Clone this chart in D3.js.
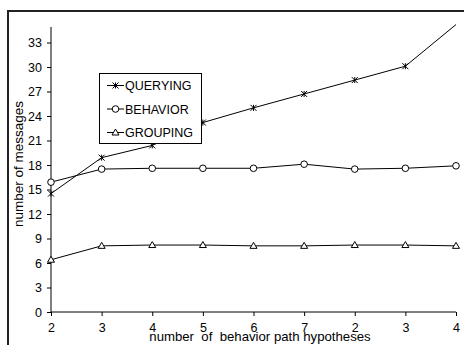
<!DOCTYPE html>
<html>
<head>
<meta charset="utf-8">
<script src="https://cdn.jsdelivr.net/npm/d3@7"></script>
<style>
  html, body { margin: 0; padding: 0; background: #fff; }
  svg { display: block; font-family: "Liberation Sans", Arial, sans-serif; }
</style>
</head>
<body>
<svg id="chart" width="464" height="345"></svg>
<script>
// x categories (two runs of hypothesis counts)
const xLabels = ["2", "3", "4", "5", "6", "7", "2", "3", "4"];
const yTicks = [0, 3, 6, 9, 12, 15, 18, 21, 24, 27, 30, 33];

const querying = [14.5, 18.9, 20.4, 23.2, 25.0, 26.7, 28.4, 30.1, 35.2];
const behavior = [15.9, 17.5, 17.6, 17.6, 17.6, 18.1, 17.5, 17.6, 17.9];
const grouping = [6.4, 8.1, 8.2, 8.2, 8.1, 8.1, 8.2, 8.2, 8.1];

const seriesNames = ["QUERYING", "BEHAVIOR", "GROUPING"];
const seriesMarkers = ["star", "circle", "triangle"];

const series = [querying, behavior, grouping].map((vals, i) => ({
  name: seriesNames[i], marker: seriesMarkers[i], values: vals
}));

const svg = d3.select("#chart");
const plotL = 51, plotR = 456, plotT = 27, plotB = 312;
const yMax = 34.9;

const x = d3.scalePoint().domain(d3.range(xLabels.length)).range([plotL, plotR]);
const y = d3.scaleLinear().domain([0, yMax]).range([plotB, plotT]);

// outer frame (left and top edges visible)
svg.append("path")
  .attr("d", `M8,345 V11 H464`)
  .attr("fill", "none").attr("stroke", "#222").attr("stroke-width", 2);

svg.append("defs").append("clipPath").attr("id", "plot")
  .append("rect").attr("x", plotL).attr("y", plotT - 3).attr("width", plotR - plotL + 2).attr("height", plotB - plotT + 3);

// y axis
const yAxis = svg.append("g").attr("transform", `translate(${plotL},0)`)
  .call(d3.axisLeft(y).tickValues(yTicks).tickSize(4).tickPadding(5).tickSizeOuter(0));
yAxis.select(".domain").attr("d", `M0,${plotT}V${plotB}`);
yAxis.selectAll("text").attr("font-size", 12.5).attr("font-family", "Liberation Sans, Arial, sans-serif").attr("fill", "#000");
yAxis.selectAll("line, path").attr("stroke", "#000");

// x axis
const xAxis = svg.append("g").attr("transform", `translate(0,${plotB})`)
  .call(d3.axisBottom(x).tickFormat(i => xLabels[i]).tickSize(4).tickPadding(7).tickSizeOuter(0));
xAxis.select(".domain").attr("d", `M${plotL},0H${plotR}`);
xAxis.selectAll("text").attr("font-size", 12.5).attr("font-family", "Liberation Sans, Arial, sans-serif").attr("fill", "#000");
xAxis.selectAll("line, path").attr("stroke", "#000");

// axis titles
svg.append("text")
  .attr("transform", `translate(23,164) rotate(-90)`)
  .attr("text-anchor", "middle").attr("font-size", 13.5)
  .text("number of messages");
svg.append("text")
  .attr("x", 260).attr("y", 341)
  .attr("text-anchor", "middle").attr("font-size", 13.2)
  .style("white-space", "pre")
  .text("number  of  behavior path hypotheses");

function drawMarker(g, type, cx, cy) {
  if (type === "circle") {
    g.append("circle").attr("cx", cx).attr("cy", cy).attr("r", 3.3)
      .attr("fill", "#fff").attr("stroke", "#000").attr("stroke-width", 1);
  } else if (type === "triangle") {
    g.append("path")
      .attr("d", `M${cx},${cy - 3.5}L${cx + 3.5},${cy + 2.5}L${cx - 3.5},${cy + 2.5}Z`)
      .attr("fill", "#fff").attr("stroke", "#000").attr("stroke-width", 1);
  } else {
    const s = 3;
    g.append("path")
      .attr("d", `M${cx - s},${cy - s}L${cx + s},${cy + s}M${cx + s},${cy - s}L${cx - s},${cy + s}M${cx},${cy - s}V${cy + s}`)
      .attr("fill", "none").attr("stroke", "#000").attr("stroke-width", 1);
  }
}

const line = d3.line().x((d, i) => x(i)).y(d => y(d));
const plot = svg.append("g").attr("clip-path", "url(#plot)");

series.forEach(s => {
  plot.append("path").datum(s.values).attr("d", line)
    .attr("fill", "none").attr("stroke", "#000").attr("stroke-width", 1);
});
series.forEach(s => {
  const g = svg.append("g");
  s.values.forEach((v, i) => { if (v <= yMax) drawMarker(g, s.marker, x(i), y(v)); });
});

// legend
const lg = svg.append("g");
lg.append("rect").attr("x", 99.5).attr("y", 73.5).attr("width", 102).attr("height", 70)
  .attr("fill", "#fff").attr("stroke", "#000").attr("stroke-width", 1);
series.forEach((s, i) => {
  const cy = 85.5 + i * 23.5;
  lg.append("line").attr("x1", 107).attr("x2", 124).attr("y1", cy).attr("y2", cy)
    .attr("stroke", "#000").attr("stroke-width", 1);
  drawMarker(lg, s.marker, 115.5, cy);
  lg.append("text").attr("x", 125).attr("y", cy + 4.5).attr("font-size", 12.5).text(s.name);
});
</script>
</body>
</html>
